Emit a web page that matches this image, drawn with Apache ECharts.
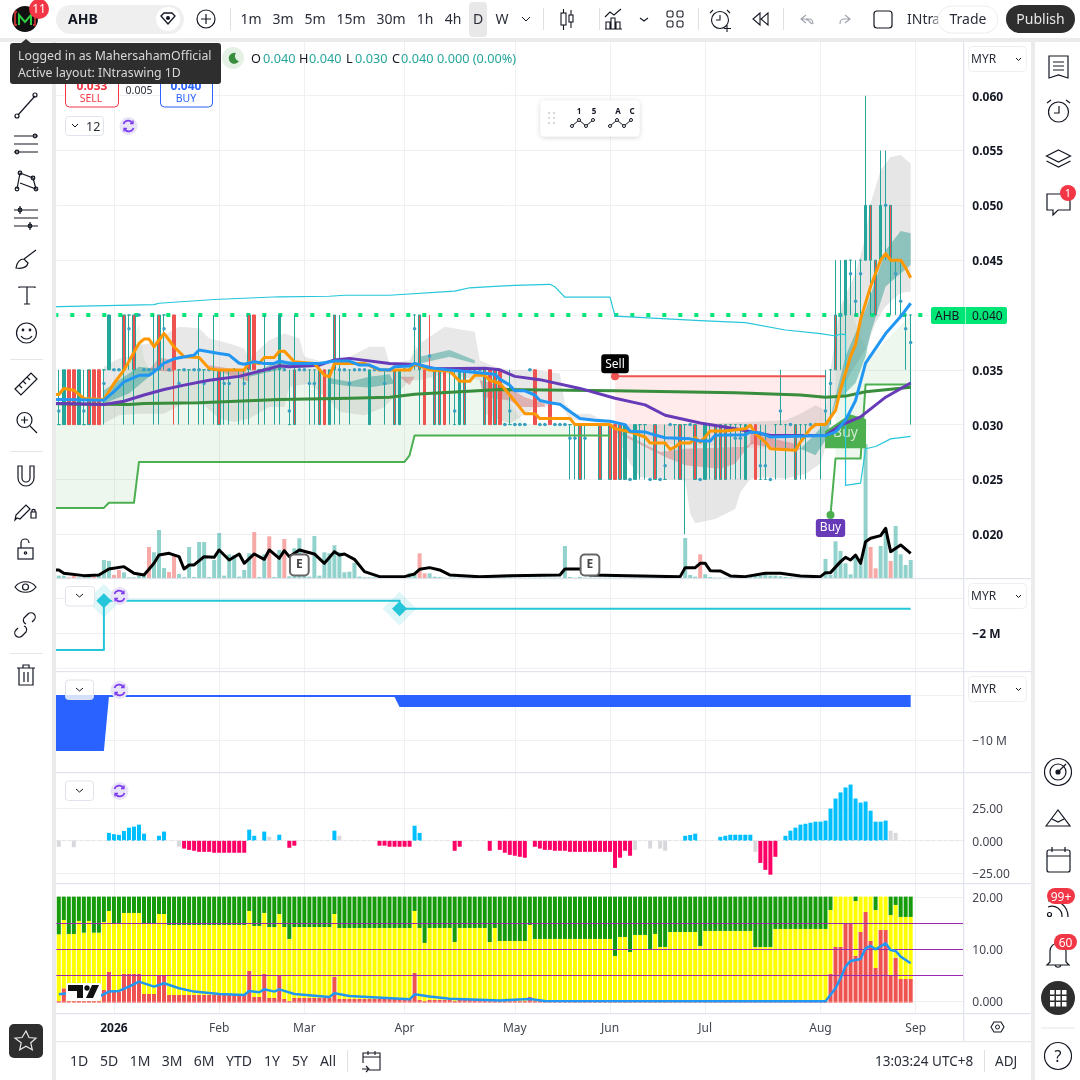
<!DOCTYPE html>
<html><head><meta charset="utf-8">
<style>html,body{margin:0;padding:0;background:#fff;width:1080px;height:1080px;overflow:hidden}#c{position:absolute;left:0;top:0;width:1080px;height:1080px}svg{position:absolute;left:0;top:0;pointer-events:none}</style>
<script src="https://cdn.jsdelivr.net/npm/echarts@6/dist/echarts.min.js"></script>
</head><body><div id="c"></div>
<svg width="1080" height="1080" font-family="Noto Sans, sans-serif" fill="#131722" font-size="14">
<defs><filter id="sh" x="-20%" y="-30%" width="140%" height="170%"><feDropShadow dx="0" dy="1" stdDeviation="2.500" flood-color="#000" flood-opacity=".18"/></filter></defs>
<!-- frame -->
<rect x="0" y="38" width="1080" height="4" fill="#ebebeb"/><rect x="52" y="38" width="4" height="1042" fill="#ebebeb"/><rect x="1031" y="38" width="4" height="1042" fill="#ebebeb"/>
<rect x="56" y="578" width="975" height="1.2" fill="#e0e3eb"/><rect x="56" y="671" width="975" height="1.2" fill="#e0e3eb"/><rect x="56" y="772" width="975" height="1.2" fill="#e0e3eb"/><rect x="56" y="883" width="975" height="1.2" fill="#e0e3eb"/>
<rect x="56" y="1013" width="975" height="1.2" fill="#e0e3eb"/><rect x="56" y="1041" width="975" height="1.2" fill="#e6e6eb"/><rect x="963" y="42" width="1.2" height="999" fill="#e0e3eb"/>
<!-- top bar -->
<circle cx="25" cy="19" r="13" fill="#111"/><path d="M19 25V15l6 7 6-7v10" fill="none" stroke="#2ecc40" stroke-width="2"/><path d="M17 12h-2v13h2M33 12h2v13h-2" fill="none" stroke="#e53935" stroke-width="1.5"/>
<circle cx="39" cy="9" r="10" fill="#f23645"/><text x="39" y="13" text-anchor="middle" fill="#fff" font-size="12">11</text>
<rect x="56" y="5" width="128" height="29" rx="14.5" fill="#efefef"/><text x="68" y="24" font-weight="700" font-size="14">AHB</text>
<circle cx="168" cy="19" r="12" fill="#fff"/><path d="M161 16l3-3h8l3 3-7 8z" fill="none" stroke="#131722" stroke-width="1.3"/><circle cx="168" cy="18" r="2" fill="#131722"/>
<circle cx="206" cy="19" r="9" fill="none" stroke="#131722" stroke-width="1.2"/><path d="M201 19h10M206 14v10" stroke="#131722" stroke-width="1.2"/>
<path d="M230.500 8v22" stroke="#e0e0e0"/>
<rect x="469" y="2" width="18" height="35" rx="4" fill="#e8e8e8"/>
<g text-anchor="middle" fill="#2a2e39"><text x="251" y="24">1m</text><text x="283" y="24">3m</text><text x="315" y="24">5m</text><text x="351" y="24">15m</text><text x="391" y="24">30m</text><text x="425" y="24">1h</text><text x="453" y="24">4h</text><text x="478" y="24">D</text><text x="502" y="24">W</text></g>
<path d="M522 17l4 4 4-4" fill="none" stroke="#131722"/><path d="M543.500 8v22M599.500 8v22M698.500 8v22M783.500 8v22" stroke="#e0e0e0"/>
<g fill="none" stroke="#131722" stroke-width="1.1"><rect x="561" y="13" width="5" height="12"/><path d="M563.500 9v4M563.500 25v5"/><rect x="569" y="15" width="4" height="7"/><path d="M571 10v5M571 22v6"/>
<path d="M606 29V22h4v7M611 29V18h4v11M616 29V22h4v7M605 29h17M605 17l5-5 4 3 7-6"/><path d="M640 18l4 3 4-3"/>
<rect x="667" y="11" width="6" height="6" rx="1.500"/><rect x="677" y="11" width="6" height="6" rx="1.500"/><rect x="667" y="21" width="6" height="6" rx="1.500"/><rect x="677" y="21" width="6" height="6" rx="1.500"/>
<circle cx="720" cy="20" r="8.500"/><path d="M720 15v5h-4M713 10l-3 3M727 10l3 3M727 25v7M724 28.500h7"/><path d="M768 13l-7 6 7 6zM760 13l-7 6 7 6z"/></g>
<g fill="none" stroke="#9ea2ad" stroke-width="1.1"><path d="M812 24l-4-4h-2M806 15l-5 4 5 4M801 19h8c3 0 4 2 4 5"/><path d="M840 24c0-3 1-5 4-5h6M845 15l5 4-5 4"/></g>
<rect x="874" y="11" width="18" height="17" rx="3" fill="none" stroke="#131722" stroke-width="1.200"/>
<text x="907" y="24" fill="#2a2e39">INtr</text><text x="932" y="24" fill="#2a2e39" opacity=".6">a</text>
<rect x="938" y="6" width="60" height="27" rx="13.500" fill="#fff" stroke="#ececec"/><text x="968" y="24" text-anchor="middle" fill="#2a2e39">Trade</text>
<rect x="1006" y="5" width="69" height="28" rx="14" fill="#2e2e2e"/><text x="1040.500" y="24" text-anchor="middle" fill="#e8e8e8">Publish</text>
<!-- legend -->
<circle cx="233" cy="58" r="11" fill="#e4f1e4"/><path d="M236 53a5.500 5.500 0 1 0 3 8 5 5 0 0 1-3-8z" fill="#388e3c"/>
<g font-size="12.700"><text x="251" y="63">O</text><text x="263" y="63" fill="#26a69a">0.040</text><text x="299" y="63">H</text><text x="309" y="63" fill="#26a69a">0.040</text><text x="346" y="63">L</text><text x="355" y="63" fill="#26a69a">0.030</text><text x="392" y="63">C</text><text x="401" y="63" fill="#26a69a">0.040</text><text x="437" y="63" fill="#26a69a">0.000 (0.00%)</text></g>
<rect x="65.500" y="75" width="53" height="32" rx="4" fill="#fff" stroke="#f23645"/><text x="92" y="90" text-anchor="middle" fill="#f23645" font-weight="700" font-size="12">0.033</text><text x="91" y="102" text-anchor="middle" fill="#f23645" font-size="10.500">SELL</text>
<text x="139" y="94" text-anchor="middle" font-size="10.500" fill="#2a2e39">0.005</text>
<rect x="160.500" y="75" width="52" height="32" rx="4" fill="#fff" stroke="#2962ff"/><text x="186" y="90" text-anchor="middle" fill="#2962ff" font-weight="700" font-size="12">0.040</text><text x="186" y="102" text-anchor="middle" fill="#2962ff" font-size="10.500">BUY</text>
<rect x="65.500" y="116.500" width="38" height="19" rx="3" fill="#fff" stroke="#e0e3eb"/><path d="M72 124l3 3 3-3" fill="none" stroke="#131722"/><text x="86" y="131" font-size="12.500" fill="#2a2e39">12</text>
<g id="sync"><circle cx="128.500" cy="126" r="9" fill="#e9e3f8"/><path d="M123.500 124a5 5 0 0 1 9-1M133.500 128a5 5 0 0 1-9 1" fill="none" stroke="#7c3aed" stroke-width="1.600"/><path d="M133 120.500v3h-3M124 131.500v-3h3" fill="none" stroke="#7c3aed" stroke-width="1.300"/></g>
<!-- pane controls -->
<rect x="65.500" y="586.500" width="29" height="19.500" rx="3" fill="#fff" stroke="#e0e3eb"/><path d="M76 594l3.500 3 3.500-3" fill="none" stroke="#131722"/>
<rect x="65.500" y="680" width="28" height="19.500" rx="3" fill="#fff" fill-opacity=".8" stroke="#e0e3eb"/><path d="M76 688l3.500 3 3.500-3" fill="none" stroke="#131722"/>
<rect x="65.500" y="781" width="28" height="19.500" rx="3" fill="#fff" stroke="#e0e3eb"/><path d="M76 789l3.500 3 3.500-3" fill="none" stroke="#131722"/>
<use href="#sync" x="-9" y="470"/><use href="#sync" x="-9" y="564"/><use href="#sync" x="-9" y="665"/>
<g font-size="12" fill="#2a2e39"><rect x="968.500" y="46.500" width="58" height="25" rx="4" fill="#fff" stroke="#efeff2"/><text x="971" y="63">MYR</text><path d="M1016 58l2.500 2.500 2.500-2.500" fill="none" stroke="#131722"/>
<rect x="968.500" y="583.500" width="58" height="25" rx="4" fill="#fff" stroke="#efeff2"/><text x="971" y="600">MYR</text><path d="M1016 595l2.500 2.500 2.500-2.500" fill="none" stroke="#131722"/>
<rect x="968.500" y="676.500" width="58" height="25" rx="4" fill="#fff" stroke="#efeff2"/><text x="971" y="693">MYR</text><path d="M1016 688l2.500 2.500 2.500-2.500" fill="none" stroke="#131722"/></g>
<!-- price tag -->
<rect x="931" y="307" width="76" height="17" rx="2" fill="#00e676"/><text x="935" y="320" font-size="12">AHB</text><text x="972" y="320" font-size="12">0.040</text><rect x="965" y="307" width="1" height="17" fill="#fff" opacity=".5"/>
<!-- floating palette -->
<rect x="540.500" y="100.500" width="99" height="36" rx="4" fill="#fff" filter="url(#sh)"/><g fill="#c9cbd1"><circle cx="549" cy="113" r="1"/><circle cx="554" cy="113" r="1"/><circle cx="549" cy="118" r="1"/><circle cx="554" cy="118" r="1"/><circle cx="549" cy="123" r="1"/><circle cx="554" cy="123" r="1"/></g>
<g fill="none" stroke="#131722"><path d="M572 126l7-6 7 6 7-6"/><path d="M610 126l7-6 7 6 7-6"/></g><g fill="#fff" stroke="#131722"><circle cx="572" cy="126" r="1.500"/><circle cx="579" cy="120" r="1.500"/><circle cx="586" cy="126" r="1.500"/><circle cx="593" cy="120" r="1.500"/><circle cx="610" cy="126" r="1.500"/><circle cx="617" cy="120" r="1.500"/><circle cx="624" cy="126" r="1.500"/><circle cx="631" cy="120" r="1.500"/></g>
<g font-size="8" font-weight="700" text-anchor="middle"><text x="579" y="114">1</text><text x="594" y="114">5</text><text x="618" y="114">A</text><text x="632" y="114">C</text></g>
<!-- left toolbar -->
<g fill="none" stroke="#131722" stroke-width="1.200">
<path d="M18 115L35 96"/><circle cx="17" cy="116" r="2"/><circle cx="35" cy="95" r="2"/>
<path d="M14 136h24M14 144h24M14 152h24"/><circle cx="35" cy="136" r="1.800"/><circle cx="17" cy="152" r="1.800"/>
<path d="M17 189l3-16 13 5 3 11-16-6"/><circle cx="17" cy="189" r="1.800"/><circle cx="20" cy="173" r="1.800"/><circle cx="33" cy="178" r="1.800"/><circle cx="36" cy="189" r="1.800"/>
<path d="M14 210h24M14 218h24M14 226h24M20 206v8M30 222v8"/><circle cx="20" cy="210" r="1.800"/><circle cx="30" cy="226" r="1.800"/>
<path d="M16 268c1-6 4-9 8-9l4 4c-1 4-5 6-12 5zM24 259l12-9"/>
<path d="M19 288v-1h16v1M27 287v17M24 304h6"/>
<circle cx="26.500" cy="333" r="10"/><circle cx="23" cy="330" r=".8"/><circle cx="30" cy="330" r=".8"/><path d="M21 336c3 4 8 4 11 0"/>
<path d="M15 389l16-16 6 6-16 16zM19 385l3 3M23 381l3 3M27 377l3 3"/>
<circle cx="24.500" cy="420" r="7.500"/><path d="M30 426l7 7M21 420h7M24.500 416.500v7"/>
<path d="M18 466v12a8 8 0 0 0 16 0v-12h-4v12a4 4 0 0 1-8 0v-12z"/>
<path d="M17 518l-2 2 1-5 10-10 4 4-10 10zM31 512h5v6h-5zM32 512v-2a2 2 0 0 1 3 0v2"/>
<rect x="18" y="548" width="15" height="11"/><path d="M21 548v-5a4 4 0 0 1 8 0" /><circle cx="25.500" cy="553" r="1.200"/>
<path d="M15 587c5-7 16-7 21 0-5 7-16 7-21 0z"/><circle cx="25.500" cy="587" r="3"/>
<path d="M18 628l-2 2a4 4 0 0 0 6 6l4-4a4 4 0 0 0-2-6M32 622l2-2a4 4 0 0 0-6-6l-4 4a4 4 0 0 0 2 6"/>
<path d="M17 668h18M19 668v17h14v-17M23 668v-3h6v3M24 672v10M28 672v10"/></g>
<path d="M10 359.500h33M10 451.500h33M10 653.500h33" stroke="#e6e6e6"/>
<rect x="9" y="1024" width="34" height="34" rx="5" fill="#2e2e2e"/><path d="M26 1031l3 6.500 7 .7-5.200 4.600 1.500 7-6.300-3.600-6.300 3.600 1.500-7L15 1038.200l7-.7z" fill="none" stroke="#e8e8e8" stroke-width="1.200"/>
<!-- tooltip -->
<path d="M26 39l-6 5h12z" fill="#2e2e2e"/><rect x="10" y="43" width="211" height="41" rx="3" fill="#2e2e2e"/><text x="18" y="60" fill="#d8d8d8" font-size="12.300">Logged in as MahersahamOfficial</text><text x="18" y="77" fill="#d8d8d8" font-size="12.300">Active layout: INtraswing 1D</text>
<!-- right panel -->
<g fill="none" stroke="#131722" stroke-width="1.200">
<path d="M1049 56h19v22l-9.500-3-9.500 3zM1053 62h11M1053 66h11M1053 70h11"/>
<circle cx="1058.500" cy="112" r="10"/><path d="M1059 106v7h-5M1047 103l4-3M1070 103l-4-3"/>
<path d="M1058.500 150l12 6-12 6-12-6zM1046.500 161l12 6 12-6"/>
<path d="M1047 194h23v16h-12l-5 5v-5h-6z"/>
<circle cx="1058" cy="772" r="13.500"/><circle cx="1058" cy="772" r="8"/><circle cx="1058" cy="772" r="2" fill="#131722"/><path d="M1058 772l8-8"/>
<path d="M1046 826l12-16 12 16zM1052 819l6 3 6-3"/>
<rect x="1047" y="850" width="23" height="22" rx="2"/><path d="M1047 856h23M1052 847v5M1065 847v5"/>
<path d="M1048 901a16 16 0 0 1 20 16M1048 907a10 10 0 0 1 14 10"/><circle cx="1049.500" cy="914.500" r="2"/>
<path d="M1050 962v-11a8 8 0 0 1 16 0v11l3 3h-22zM1055 965c1 3 5 3 6 0"/></g>
<circle cx="1058" cy="998" r="17" fill="#2e2e2e"/><g fill="#fff"><rect x="1050" y="990" width="4.500" height="4.500"/><rect x="1056" y="990" width="4.500" height="4.500"/><rect x="1062" y="990" width="4.500" height="4.500"/><rect x="1050" y="996" width="4.500" height="4.500"/><rect x="1056" y="996" width="4.500" height="4.500"/><rect x="1062" y="996" width="4.500" height="4.500"/><rect x="1050" y="1002" width="4.500" height="4.500"/><rect x="1056" y="1002" width="4.500" height="4.500"/><rect x="1062" y="1002" width="4.500" height="4.500"/></g>
<path d="M1041 1028h34" stroke="#e6e6e6"/><circle cx="1058" cy="1056" r="13.500" fill="none" stroke="#131722" stroke-width="1.200"/><text x="1058" y="1062" text-anchor="middle" font-size="16">?</text>
<circle cx="1068" cy="193" r="8" fill="#f23645"/><text x="1068" y="197" text-anchor="middle" fill="#fff" font-size="11">1</text>
<rect x="1047" y="888" width="28" height="16" rx="8" fill="#f23645"/><text x="1061" y="900.500" text-anchor="middle" fill="#fff" font-size="12">99+</text>
<rect x="1054" y="934" width="23" height="16" rx="8" fill="#f23645"/><text x="1065.500" y="946.500" text-anchor="middle" fill="#fff" font-size="12">60</text>
<!-- bottom bar -->
<g text-anchor="middle" fill="#2a2e39"><text x="79" y="1066">1D</text><text x="109" y="1066">5D</text><text x="140" y="1066">1M</text><text x="172" y="1066">3M</text><text x="204" y="1066">6M</text><text x="239" y="1066">YTD</text><text x="272" y="1066">1Y</text><text x="300" y="1066">5Y</text><text x="328" y="1066">All</text></g>
<path d="M347.500 1050v22M984.500 1050v22" stroke="#e0e0e0"/><path d="M363 1063v-10h17v17h-11M363 1057h17M368 1051v4M375 1051v4M362 1069h6M366 1066l3 3-3 3" fill="none" stroke="#131722" stroke-width="1.100"/>
<text x="875" y="1066" fill="#2a2e39" font-size="13.500">13:03:24 UTC+8</text><text x="995" y="1066" fill="#2a2e39" font-size="13.500">ADJ</text>
<path d="M991 1027l3-5h7l3 5-3 5h-7z" fill="none" stroke="#131722" stroke-width="1.100"/><circle cx="997.500" cy="1027" r="2" fill="none" stroke="#131722"/>
<!-- TradingView watermark -->
<rect x="66" y="983" width="35" height="18" rx="2" fill="#fff"/><path d="M68 985h15v13h-6v-7h-9z" fill="#111"/><circle cx="87" cy="988" r="2.700" fill="#111"/><path d="M92 985h7l-6 13h-7z" fill="#111"/>
</svg>
<script>
// Time axis: bars are trading days, labels sit on the first bar of the month.
const monthLabels = {11:'2026',32:'Feb',49:'Mar',69:'Apr',91:'May',110:'Jun',129:'Jul',152:'Aug',171:'Sep'};
const slotCount = 181;

// Prices in 0.001 MYR
const opens  = [30,30,35,35,30,30,35,35,35,35, 35,35,35,40,40,40,40,35,35,35, 40,40,35,40,35,35,35,35,35,35, 35,35,35,35,35,35,35,35,40,40, 35,35,35,35,35,35,30,35,35,35, 35,35,35,35,30,40,35,35,35,35, 35,35,30,35,35,35,35,35,30,35, 35,40,40,35,35,35,35,35,35,30, 30,35,35,35,35,35,35,35,35,30, 30,30,30,30,35,35,30,30,35,30, 30,30,30,30,30,30,30,30,30,30, 30,30,30,25,25,25,30,30,25,30, 25,25,30,30,30,30,30,30,25,25, 30,30,30,30,30,30,30,25,30,30, 25,25,25,30,30,30,30,30,30,30, 30,30,30,30,35,40,40,40,45,40, 45,45,50,45,45,50,50,45,40,40, 40];
const highs  = [35,35,35,35,35,35,35,35,35,35, 40,35,35,40,40,40,40,35,35,40, 40,40,35,40,35,35,35,35,40,35, 35,40,35,35,35,35,35,35,40,40, 35,40,35,35,40,35,35,40,35,35, 35,35,35,35,35,40,40,35,35,35, 35,35,35,35,35,35,35,35,35,35, 35,40,40,35,40,35,35,35,35,35, 35,35,35,35,35,35,35,35,35,30, 35,30,30,30,35,35,30,30,35,30, 30,30,30,30,30,30,30,30,30,30, 30,30,30,30,25,30,30,30,25,30, 25,30,30,30,30,30,30,30,25,30, 30,30,30,30,30,30,30,30,30,30, 30,30,25,30,35,30,30,30,30,30, 30,30,30,35,35,45,45,45,45,45, 45,60,50,45,55,55,50,45,45,40, 40];
const lows   = [30,30,30,30,30,30,30,30,30,30, 35,35,35,30,35,30,40,35,35,30, 30,35,35,30,30,35,30,35,30,30, 35,30,30,30,30,35,30,30,30,35, 30,30,35,30,30,35,30,30,35,35, 30,30,30,30,30,30,30,35,30,35, 35,35,30,35,35,30,35,30,30,35, 35,35,30,30,35,30,30,30,30,30, 30,30,35,35,35,30,30,30,30,30, 30,30,30,30,35,30,30,30,30,30, 30,30,25,25,25,25,30,30,25,30, 25,25,25,25,25,25,25,25,25,25, 25,25,30,25,25,20,30,25,25,25, 25,25,25,25,25,25,25,25,30,25, 25,25,25,25,30,25,30,25,25,25, 30,30,25,30,30,35,35,35,40,40, 40,45,40,40,45,45,40,40,40,35, 30];
const closes = [30,35,30,30,35,30,30,30,30,35, 40,35,35,35,40,35,40,35,35,35, 35,40,35,35,35,35,35,35,35,35, 35,35,30,35,35,35,35,35,35,35, 35,35,35,35,40,35,30,30,35,35, 35,35,30,30,35,35,35,35,35,35, 35,35,35,35,35,35,35,30,35,35, 35,40,35,30,35,30,30,30,35,30, 35,30,35,35,35,30,30,30,30,30, 30,30,30,30,35,30,30,30,30,30, 30,30,30,30,25,30,30,30,25,30, 25,25,25,30,25,30,30,30,25,25, 25,25,30,30,25,30,30,25,25,30, 30,25,25,25,30,30,30,30,30,25, 25,25,25,30,30,30,30,25,30,30, 30,30,30,30,35,35,40,45,45,40, 45,50,45,40,50,50,45,45,40,40, 40];
const redSolidBars = [2,3,7,8,23,39,53,73,74,77,86,88,95,98,111,139];
const redEdgedBars = [6,13,15,20,32,38,47,52,55,67,72,75,76,81,85,87,104,108,110,112,119,124,127,131,132,133,147,155,162,163,166];
const midDots = [31.25,null,null,null,null,31.25,null,null,null,33.75, null,35,35,null,38.75,null,40,35,35,35, null,38.75,35,null,33.75,35,null,35,35,33.75, 35,35,null,33.75,33.75,35,null,33.75,null,null, null,35,35,null,null,35,31.25,null,35,35, 33.75,33.75,null,null,null,null,35,35,33.75,35, 35,35,null,35,35,33.75,35,null,null,35, 35,38.75,null,null,36.25,null,null,null,null,31.25, null,null,35,35,35,null,null,null,null,30, 31.25,30,30,30,35,null,30,30,null,30, 30,30,28.75,28.75,null,28.75,null,null,null,30, null,null,null,null,25,null,null,null,25,null, 25,26.25,30,null,null,null,30,null,25,null, null,null,null,null,null,28.75,28.75,null,null,null, 26.25,26.25,25,null,31.25,null,30,null,null,null, 30,30,null,31.25,33.75,null,40,null,43.75,41.25, 43.75,null,null,null,null,50,null,43.75,41.25,38.75, 37.5];

// Moving averages and stops as [bar, price] vertices
const orangeLine = [[-1,32.74],[0,32.74],[1,33.29],[3,33.14],[5,32.38],[9,32.29],[11,33.75],[13,34.97],[16,37.41],[17,37.8],[18,37.8],[19,37.1],[21,38.32],[23,37.1],[25,36.19],[28,36.13],[30,35.12],[32,34.97],[37,34.97],[38,35.73],[40,35.58],[41,36.13],[43,36.13],[44,36.7],[45,36.7],[47,35.73],[51,35.58],[53,34.5],[54,34.36],[55,35.58],[61,35.58],[64,34.97],[70,34.97],[71,35.58],[74,34.97],[78,34.9],[80,33.96],[82,33.96],[83,34.5],[85,34.5],[86,34.05],[88,33.75],[90,32.7],[93,31],[95,31],[96,30.55],[102,30.55],[103,30],[110,30],[111,29.63],[114,29.33],[117,28.87],[118,28.32],[121,28.32],[122,27.74],[123,27.96],[124,28.32],[126,28.32],[127,28.81],[128,28.4],[129,28.87],[130,29.42],[133,29.42],[137,29.63],[138,29.94],[139,29.18],[141,28.4],[142,27.8],[147,27.65],[148,28.41],[150,29.63],[151,30],[153,30],[155,31.3],[156,33.2],[158,36.24],[159,37.3],[160,39.6],[162,42.6],[163,43.8],[164,45],[165,45.6],[166,45],[168,45],[169,44.3],[170,43.4]];
const blueLine = [[-1,32.3],[0,32.3],[9,32.23],[11,33],[13,33.9],[16,34.5],[18,34.5],[19,34.8],[21,35.6],[23,36],[26,36.25],[27,36.34],[28,36.8],[30,36.65],[32,36.49],[34,36.34],[36,35.6],[37,35.5],[39,35.73],[41,35.58],[43,35.58],[44,35.8],[46,35.58],[52,35.58],[55,35.8],[58,35.8],[60,35.43],[62,35.43],[64,35.03],[66,34.97],[67,35.27],[70,35.34],[71,35.58],[74,35.18],[78,34.97],[87,34.6],[88,34.15],[90,33.6],[91,33.08],[93,33.08],[95,32.7],[96,32.2],[98,32],[100,31.85],[102,31.2],[104,30.55],[107,30.4],[110,30.3],[113,30],[114,29.4],[117,29.33],[118,29.18],[121,28.8],[126,28.7],[128,28.5],[130,28.5],[131,29.03],[137,29.08],[138,29.33],[140,29.24],[142,28.87],[147,28.93],[153,29],[155,29.33],[157,30.4],[159,32.2],[161,35.6],[165,38.3],[168,39.85],[170,41.07]];
const purpleLine = [[-1,31.92],[0,31.92],[9,31.83],[13,32.13],[17,32.7],[21,33.2],[25,33.6],[30,34.05],[36,34.4],[42,35.1],[44,35.36],[46,35.27],[52,35.42],[55,35.9],[58,36.04],[66,35.58],[70,35.5],[72,35.42],[75,35.1],[85,35.15],[88,35],[91,34.4],[96,34.1],[104,33.3],[111,32.4],[117,31.8],[121,30.85],[128,30.15],[135,29.63],[142,29],[148,29],[153,29],[156,29.94],[160,30.7],[165,32.5],[170,33.8]];
const greenLine = [[-1,31.9],[0,31.9],[14,31.83],[17,31.92],[28,32],[44,32.3],[58,32.4],[66,32.5],[71,32.77],[88,33.2],[111,33.08],[135,32.9],[148,32.7],[153,32.5],[157,32.6],[161,33],[170,33.4]];
const cyanLine = [[-1,40.77],[0,40.77],[19,40.95],[20,41.07],[31,41.41],[44,41.66],[54,41.71],[57,41.8],[66,41.8],[79,42.17],[82,42.48],[87,42.6],[91,42.7],[98,42.8],[99,42.57],[101,41.62],[110,41.62],[111,39.9],[128,39.48],[137,39.3],[145,38.63],[152,38.3],[155,38.08],[156,38.26],[157,38.2],[157,24.45],[160,24.66],[161,27.8],[163,28],[166,28.7],[170,28.93]];
const stopLine = [[-1,22.4],[0,22.4],[9,22.4],[10,22.87],[15,22.87],[16,26.6],[69,26.6],[70,27.2],[71,29],[110,29]];
const buyStopLine = [[154,21.75],[155,26.9],[160,26.9],[161,33.66],[170,33.66]];
const sellLine = [[111,34.42],[153,34.42]];
const lastPrice = 40;

// Shaded ranges as upper and lower [bar, price] edges
const stopFillTop = [[-1,31.9],[0,31.9],[9,31.9],[11,33.5],[14,35.5],[15,38],[16,39.2],[17,36],[18,35],[69,35],[70,35.5],[71,37.5],[72,36],[73,35],[88,35],[90,32],[93,30],[110,30]];
const buyFillTop = [[155,40],[156,40],[157,42],[160,38],[162,36.2],[170,40]];
const buyFillLow = [[155,26.9],[160,26.9],[161,33.66],[170,33.66]];
const sellFillLow = [[111,30],[113,29.5],[120,28.3],[147,27.65],[150,29.6],[153,30]];
const grayATop = [[9,35.27],[12,36.04],[14,36.2],[16,37.26],[18,37.4],[21,38.17],[24,38.93],[28,38.78],[30,37.87],[34,37.4],[37,36.95],[38,36.04],[42,37.7],[45,38.3],[48,37.87],[49,36.2],[54,35.58],[58,36.2],[62,37.1],[65,37.1],[66,35.58],[70,35.88],[72,37.4],[77,38.93],[83,38.48],[84,35.88],[87,35.27],[90,34.97],[95,35],[100,34.66],[101,31.9],[103,31],[106,31],[110,30.1]];
const grayALow = [[9,30.1],[12,30.85],[16,31],[21,31],[26,32.23],[29,31.77],[32,30.55],[35,30.24],[38,30.55],[42,31.6],[45,31.6],[46,33.45],[50,33.75],[54,32.23],[56,31.16],[61,30.85],[65,31.6],[70,34.05],[72,34.05],[77,34.66],[84,34.05],[85,31],[90,30.1],[95,31.5],[100,31.9],[102,30.5],[110,30]];
const grayBTop = [[110,30],[125,30],[145,30.4],[148,31],[151,31.77],[153,31.3],[154,35],[156,40.8],[159,43.8],[161,47.15],[162,50.2],[164,53.2],[166,54.4],[168,54.6],[170,53.8]];
const grayBLow = [[110,30],[111,29.18],[114,26.43],[116,25.2],[125,24.9],[126,21.86],[127,21],[131,21.4],[135,22.3],[136,23.8],[138,25.06],[141,25.2],[145,25.06],[149,25.5],[152,26.43],[153,27.96],[155,31.9],[158,34.7],[161,36.85],[163,39.3],[165,40.8],[168,42],[170,42.15]];
const tealBands = [
 [[[9,33.14],[12,34.05],[16,35.27],[19,35.12]], [[9,31.92],[14,32.84],[18,34.36],[19,35.12]]],
 [[[38,34.5],[44,35.88],[48,35.73],[52,35.58]], [[38,34.36],[45,35.12],[52,35.27]]],
 [[[54,34.24],[58,33.9],[62,34.36],[66,34.6]], [[54,33.75],[58,33.5],[62,33.38],[67,33.75]]],
 [[[72,36.2],[78,36.8],[83,35.88]], [[72,35.58],[78,36.2],[83,35.58]]],
 [[[148,27.8],[151,29.18],[154,30.7],[157,36.24],[161,40.5],[163,43.2],[165,45.9],[168,47.67],[170,47.45]], [[148,27.8],[151,27.2],[153,28.57],[155,32],[159,33.8],[161,36.24],[162,38.36],[165,42.6],[170,44.58]]]
];
const redBands = [
 [[[18,34.97],[20,36.13],[23,35.88]], [[18,34.97],[23,34.8]]],
 [[[30,35.43],[34,35.12],[38,34.8]], [[30,35.27],[34,34.5],[38,33.9]]],
 [[[68,34.36],[71,34.36]], [[68,34.36],[70,33.6],[71,34.36]]],
 [[[84,34.05],[90,33.3],[93,32.5],[97,31.9]], [[85,32.5],[90,32.2],[92,31.6],[97,31.6]]],
 [[[111,29.63],[120,27.5],[125,27.8],[135,27.96],[137,27.96],[139,28.57]], [[111,29.33],[117,27.96],[121,27.04],[125,26.3],[132,25.98],[135,26.43],[137,27.65],[139,28.57]]],
 [[[138,29.18],[147,28.26],[148,27.8]], [[138,28.26],[147,27.5],[148,27.8]]]
];

// Volume in arbitrary chart units, and the volume average line
const volume = [8,8,3,8,3,3,5,4,8,55, 52,10,25,18,3,3,8,8,94,78, 145,31,19,70,13,4,94,4,109,109, 4,55,136,8,72,70,5,25,75,139, 4,72,126,4,85,118,6,90,120,9, 5,127,8,78,75,99,78,18,20,46, 5,3,3,3,1,1,1,1,1,2, 15,10,75,15,15,5,4,2,2,2, 2,2,2,2,2,2,3,3,3,3, 3,2,2,2,2,2,2,2,2,2, 2,97,4,2,4,2,2,2,2,2, 2,2,2,2,2,2,2,2,2,2, 2,2,2,2,2,121,10,5,72,12, 4,2,2,2,2,2,2,3,6,8, 8,12,8,8,6,4,3,2,2,2, 2,2,2,58,10,111,82,45,12,67, 45,402,94,30,97,150,52,157,72,40, 55];
const volumeDownBars = [2,3,7,11,12,18,22,23,39,42,45,72,73,128,162,163,166];
const volumeAvg = [[-1,25],[0,25],[1,15],[5,8],[8,10],[10,28],[13,35],[15,15],[17,10],[19,45],[20,70],[22,75],[24,65],[25,28],[26,40],[27,40],[29,65],[31,63],[32,85],[34,55],[36,73],[37,45],[39,73],[41,57],[42,85],[44,60],[45,83],[46,65],[48,85],[51,73],[53,45],[55,80],[56,70],[57,73],[59,57],[61,20],[64,5],[69,5],[71,13],[72,27],[74,32],[76,25],[78,10],[84,5],[90,8],[100,10],[101,28],[104,28],[106,10],[124,5],[125,32],[127,32],[128,45],[129,45],[130,23],[132,22],[134,7],[137,5],[141,15],[144,15],[148,7],[152,5],[153,17],[154,17],[156,50],[157,63],[158,55],[159,70],[160,45],[161,110],[162,120],[164,128],[165,150],[166,80],[168,100],[170,75]];

// Pane 2 and pane 3, millions of MYR
const flowLine = [[-1,-2.48],[0,-2.48],[9,-2.48],[9,-1.07],[68,-1.07],[68,-1.3],[170,-1.3]];
const flowMarks = [[9,-1.07],[68,-1.3]];
const flowArea = [[-1,-12.36],[0,-12.36],[9,-12.36],[10,-0.44],[67,-0.44],[68,-2.65],[170,-2.65]];

// Pane 4 momentum histogram
const momentum = [-4.6,null,null,-5,null,null,null,null,null,null, 6,5,4.5,7.5,10,10.8,12.3,5.4,null,null, 3.8,7,null,null,-4.6,-6,-7,-7.7,-8.5,-8.5, -8.5,-9.2,-9.2,-9.2,-9.2,-9.2,-9.2,-9.2,8.5,3.8, null,7,3,null,4.6,null,-5.4,-3.8,null,null, null,null,null,null,null,7.7,3.8,null,null,null, null,null,null,null,-3.8,-3.8,-4.6,-4.6,-4.6,-4.6, -4.6,11.5,6,null,null,null,null,null,null,-7.7, -4.6,null,null,null,null,null,-7.7,null,-7,-9.2, -10.8,-11.5,-12.3,-13,null,-4.6,-6,-7,-7,-7.7, -7.7,-7.7,-8.5,-8.5,-8.5,-8.5,-8.5,-8.5,-8.5,-8.5, -8.5,-20.8,-13,-7.7,-11.5,-7,null,null,-6,null, -6,-7.7,null,null,null,3.8,4.4,5.4,null,null, null,null,3,3.8,4.6,4.6,4.6,4.6,4.6,-8.5, -17,-22.3,-26,-12.3,null,3.8,7.7,10,12.3,13, 13.8,14.6,14.6,15.4,24.6,32.3,37,40.8,43,32.3, 29.2,30,23,14.6,14.6,15.4,7.7,6,null,null, null];
const momentumGrayBars = [0,3,24,42,56,115,118,120,121,139,166,167];

// Pane 5 stacked levels
const redPart = [0,2.5,0,0,.06,0,.06,0,0,2.18, 5.64,1.86,1.86,5.26,5.26,5.26,5.26,1.41,1.41,1.41, 5.06,5.06,1.22,1.22,1.22,1.22,1.22,1.22,1.22,1.22, 1.22,1.22,1.22,1.22,1.22,1.22,1.22,1.22,5.83,.83, .83,5.26,.64,.64,5.06,.45,0,.64,.64,.64, .64,.64,.64,.64,.64,4.68,.45,.45,.45,.45, .45,.45,.45,.45,.45,.45,.45,.45,.45,.45, .45,5.45,.26,0,.26,.26,.26,.26,.26,0, .26,.26,.26,.26,.26,.26,0,.26,0,0, 0,0,0,0,.83,0,0,0,0,0, 0,0,0,0,0,0,0,0,0,0, 0,0,0,0,0,0,0,0,0,0, 0,0,0,0,0,0,0,0,0,0, 0,0,0,0,0,0,0,0,0,0, 0,0,0,0,0,0,0,0,0,0, 0,0,0,0,5.26,10.45,10.45,14.87,14.87,8.72, 13.33,17.18,11.6,6.41,13.72,13.72,5,8.4,4.29,4.29, 4.29];
const yellowTop = [12.88,15.64,12.95,12.95,15.45,13.2,15.45,13.2,13.2,15.26, 17.37,15,15,16.99,16.99,16.99,16.99,15,15,15, 16.79,16.79,14.68,14.68,14.68,14.68,14.68,14.68,14.68,14.68, 14.68,14.68,14.68,14.68,14.68,14.68,14.68,14.68,17.37,14.49, 14.49,16.99,14.29,14.29,16.79,14.29,11.99,14.29,14.29,14.29, 14.29,14.29,14.29,14.29,14.29,16.79,14.1,14.1,14.1,14.1, 14.1,14.1,14.1,14.1,14.1,14.1,14.1,14.1,14.1,14.1, 14.1,17.37,14.1,11.22,14.1,14.1,14.1,14.1,14.1,11.41, 14.1,14.1,14.1,14.1,14.1,14.1,11.41,14.1,11.6,11.6, 11.6,11.6,11.6,11.6,14.68,11.99,11.99,11.99,11.99,11.99, 11.99,11.99,11.99,11.99,11.99,11.99,11.99,11.99,11.99,11.99, 11.99,8.72,12.37,12.37,9.49,12.76,12.76,12.76,10.06,12.95, 10.45,10.45,13.33,13.33,13.33,13.33,13.33,13.33,10.64,13.53, 13.53,13.53,13.53,13.53,13.53,13.53,13.53,13.53,13.53,10.45, 10.45,10.45,10.45,13.91,13.91,13.91,13.91,13.91,13.91,13.91, 13.91,13.91,13.91,13.91,17.56,20.13,20.13,20.13,20.13,19.29, 20.13,20.13,20.13,17.56,20.13,20.13,16.6,18.53,16.22,16.22, 16.22];
const stackTotal = 20.13, stackFloor = -0.25;
const levelLine = [[0,1.35],[2,1.54],[3,.9],[8,.9],[10,1.86],[12,2],[14,2.82],[16,3.78],[19,2.82],[21,3.46],[24,2.5],[27,1.86],[32,1.41],[37,1.22],[38,1.99],[40,1.73],[41,2.3],[43,1.86],[44,2.3],[47,1.41],[54,.83],[55,1.54],[58,1.03],[70,.38],[71,1.35],[74,.9],[78,.5],[88,.13],[90,.26],[94,.45],[97,.06],[153,0],[155,2.5],[156,4.42],[157,6.67],[158,7.76],[160,8.14],[161,10.19],[162,10.64],[163,10],[165,11.15],[166,9.87],[167,9.68],[168,8.59],[170,7.31]];
const levelMarks = [5,10,15];

// Tick values per pane
const priceTicks = [20,25,30,35,40,45,50,55,60];
const flowTicks = [-1,-2,-3], areaTicks = [0,-10], momentumTicks = [25,0,-25], levelTicks = [0,10,20];

const TEAL='#26a69a', RED='#ef5350', FONT='Noto Sans';
const categories = Array.from({length:slotCount},(_, i)=> monthLabels[i]
  ? {value:monthLabels[i], textStyle:{fontWeight: i===11?'bold':'normal', color: i===11?'#131722':'#434651'}} : '');
const monthIdx = Object.keys(monthLabels).map(Number);

const candles = opens.map((o,i)=>{
  let fill=TEAL, edge=TEAL;
  if(redSolidBars.includes(i)){fill=RED;edge=RED;}
  else if(redEdgedBars.includes(i)){fill=RED;edge=TEAL;}
  return {value:[o,closes[i],lows[i],highs[i]], itemStyle:{color:fill,color0:fill,borderColor:edge,borderColor0:edge,borderWidth:1}};
});

function band(top,low,color,z){
  return {type:'custom',coordinateSystem:'cartesian2d',xAxisIndex:0,yAxisIndex:0,z,silent:true,clip:true,data:[[Math.max(top[0][0],0),top[0][1]]],encode:{x:0,y:1},
    renderItem:(p,api)=>({type:'polygon',shape:{points:top.concat(low.slice().reverse()).map(d=>api.coord(d))},style:{fill:color}})};
}
function path(data,color,width,z,x=0,y=0){
  return {type:'line',xAxisIndex:x,yAxisIndex:y,data,showSymbol:false,symbol:'none',lineStyle:{color,width,join:'round'},z,silent:true,animation:false,clip:true};
}

const grids=[[42,536.3],[578.3,93],[671.3,101],[772.3,111],[883.3,130]].map(([top,height])=>({left:56.3,width:907,top,height}));
const xAxes=grids.map((g,i)=>({type:'category',gridIndex:i,data:categories,boundaryGap:true,
  axisLine:{show:false},axisTick:{show:false},
  axisLabel:{show:i===4,interval:0,hideOverlap:false,margin:9,fontFamily:FONT,fontSize:12,color:'#131722'},
  splitLine:{show:true,alignWithLabel:true,interval:(idx)=>monthIdx.includes(idx),lineStyle:{color:'#f0f0f3',width:1}}}));
function yA(gridIndex,min,max,ticks,fmt,tone){
  const weight=(tone&&tone.fontWeight)||'normal', color=(tone&&tone.color)||'#434651';
  return {type:'value',gridIndex,position:'right',min,max,
    axisLine:{show:false},axisTick:{show:false,customValues:ticks},
    splitLine:{show:true,lineStyle:{color:'#f0f0f3',width:1}},
    axisLabel:{customValues:ticks,formatter:v=>{const s=fmt(v);return s?'{t|'+s+'}':'';},margin:9,fontFamily:FONT,fontSize:12,color,fontWeight:weight,showMinLabel:true,showMaxLabel:true,
      rich:{t:{padding:[3,0,0,0],fontFamily:FONT,fontSize:12,color,fontWeight:weight}}}};
}
const yAxes=[
  yA(0,15.98,64.9,priceTicks,v=>(v/1000).toFixed(3),{fontWeight:'bold',color:'#131722'}),
  {type:'value',gridIndex:0,min:0,max:1609,show:false,splitLine:{show:false}},
  yA(1,-3.086,-0.429,flowTicks,v=>v===-2?'−2 M':'',{fontWeight:'bold',color:'#131722'}),
  yA(2,-17.06,5.23,areaTicks,v=>v===-10?'−10 M':''),
  yA(3,-32.6,52.4,momentumTicks,v=>v===0?'0.000':(v<0?'−':'')+Math.abs(v).toFixed(2)),
  yA(4,-2.31,22.69,levelTicks,v=>v===0?'0.000':v.toFixed(2))
];

const series=[
  band(stopFillTop,stopLine,'rgba(76,175,80,.1)',1),
  band(buyFillTop,buyFillLow,'rgba(76,175,80,.1)',1),
  band(sellLine,sellFillLow,'rgba(255,190,190,.3)',1),
  band(grayATop,grayALow,'rgba(140,140,140,.2)',2),
  band(grayBTop,grayBLow,'rgba(140,140,140,.22)',2),
  ...tealBands.map(b=>band(b[0],b[1],'rgba(0,137,123,.38)',3)),
  ...redBands.map(b=>band(b[0],b[1],'rgba(198,40,40,.28)',3)),
  {type:'bar',xAxisIndex:0,yAxisIndex:1,data:volume.map((v,i)=>({value:v,itemStyle:{color:volumeDownBars.includes(i)?'rgba(239,83,80,.5)':'rgba(38,166,154,.5)'}})),barWidth:4,z:2,silent:true},
  {type:'scatter',xAxisIndex:0,yAxisIndex:0,data:[[157,29.4]],symbol:'path://M0 17L25 0L41 5L41 34L0 34Z',symbolSize:[41,34],itemStyle:{color:'#4caf50',opacity:1},z:4,silent:true,
    label:{show:true,position:'inside',formatter:'Buy',color:'#cfe9d0',fontFamily:FONT,fontSize:14,offset:[0,2]}},
  {type:'candlestick',xAxisIndex:0,yAxisIndex:0,data:candles,barWidth:3,z:5,silent:true},
  {type:'scatter',xAxisIndex:0,yAxisIndex:0,data:midDots,symbolSize:3.5,itemStyle:{color:'#3aa0c2',opacity:1},z:6,silent:true},
  path(cyanLine,'#26c6da',1.2,6),
  path(stopLine,'#4caf50',2,6),
  path(buyStopLine,'#4caf50',2,6),
  path(sellLine,'#ef5350',2,6),
  path(greenLine,'#388e3c',3,7),
  path(purpleLine,'#673ab7',3,8),
  path(orangeLine,'#ff9800',3,8),
  path(blueLine,'#2196f3',3,9),
  path(volumeAvg,'#000',3,9,0,1),
  {type:'line',xAxisIndex:0,yAxisIndex:0,data:[],z:10,silent:true,markLine:{symbol:'none',silent:true,animation:false,label:{show:false},lineStyle:{type:[4,12],dashOffset:2,width:4,color:'#00e676',opacity:1},data:[{yAxis:lastPrice}]}},
  {type:'scatter',xAxisIndex:0,yAxisIndex:0,data:[[111,34.42]],symbolSize:8,itemStyle:{color:'#ef5350',opacity:1},z:11,silent:true,
    label:{show:true,position:'top',distance:-1,formatter:'Sell',color:'#fff',backgroundColor:'#000',padding:[4,4,3,4],borderRadius:3,fontFamily:FONT,fontSize:12}},
  {type:'scatter',xAxisIndex:0,yAxisIndex:0,data:[[154,21.75]],symbolSize:8,itemStyle:{color:'#4caf50',opacity:1},z:11,silent:true,
    label:{show:true,position:'bottom',distance:0,formatter:'Buy',color:'#fff',backgroundColor:'#673ab7',padding:[3,4],borderRadius:3,fontFamily:FONT,fontSize:12}},
  {type:'scatter',xAxisIndex:0,yAxisIndex:1,data:[[48,40],[106,40]],symbolSize:0,itemStyle:{opacity:1},z:11,silent:true,
    label:{show:true,position:'inside',formatter:'E',color:'#444',backgroundColor:'#fff',borderColor:'#666',borderWidth:2,borderRadius:3,padding:[4,5,3,5],fontFamily:FONT,fontSize:12,fontWeight:'bold'}},
  // pane 2
  path(flowLine,'#26c6da',2,3,1,2),
  {type:'scatter',xAxisIndex:1,yAxisIndex:2,data:flowMarks,symbol:'diamond',symbolSize:34,itemStyle:{color:'rgba(38,198,218,.15)',opacity:1},z:2,silent:true},
  {type:'scatter',xAxisIndex:1,yAxisIndex:2,data:flowMarks,symbol:'diamond',symbolSize:15,itemStyle:{color:'#26c6da',opacity:1},z:4,silent:true},
  // pane 3
  Object.assign(path(flowArea,'#2962ff',0,3,2,3),{areaStyle:{color:'#2962ff',opacity:1,origin:0}}),
  // pane 4
  {type:'bar',xAxisIndex:3,yAxisIndex:4,data:momentum.map((v,i)=>({value:v,itemStyle:{color:momentumGrayBars.includes(i)?'#d9d9dd':(v>0?'#00bfff':'#ff0066')}})),barWidth:4,z:3,silent:true,
    markLine:{symbol:'none',silent:true,animation:false,label:{show:false},lineStyle:{type:[3,3],width:1,color:'#e4e4e8'},data:[{yAxis:0}]}},
  // pane 5
  {type:'bar',xAxisIndex:4,yAxisIndex:5,stack:'lv',data:redPart,barWidth:4,itemStyle:{color:'#ef5350'},z:3,silent:true},
  {type:'bar',xAxisIndex:4,yAxisIndex:5,stack:'lv',data:yellowTop.map((v,i)=>v-redPart[i]),barWidth:4,itemStyle:{color:'#ffff00'},z:3,silent:true},
  {type:'bar',xAxisIndex:4,yAxisIndex:5,stack:'lv',data:yellowTop.map(v=>stackTotal-v),barWidth:4,itemStyle:{color:'#169b0a'},z:3,silent:true},
  {type:'bar',xAxisIndex:4,yAxisIndex:5,stack:'lv',data:yellowTop.map(()=>stackFloor),barWidth:4,itemStyle:{color:'#ef5350'},z:3,silent:true},
  Object.assign(path(levelLine,'#2196f3',2.5,5,4,5),{markLine:{symbol:'none',silent:true,animation:false,label:{show:false},lineStyle:{type:'solid',width:1,color:'#9c27b0',opacity:1},data:levelMarks.map(v=>({yAxis:v}))}})
];

const chart=echarts.init(document.getElementById('c'),null,{renderer:'canvas',width:1080,height:1080});
chart.setOption({animation:false,backgroundColor:'#fff',textStyle:{fontFamily:FONT},grid:grids,xAxis:xAxes,yAxis:yAxes,series});
</script>
</body></html>
